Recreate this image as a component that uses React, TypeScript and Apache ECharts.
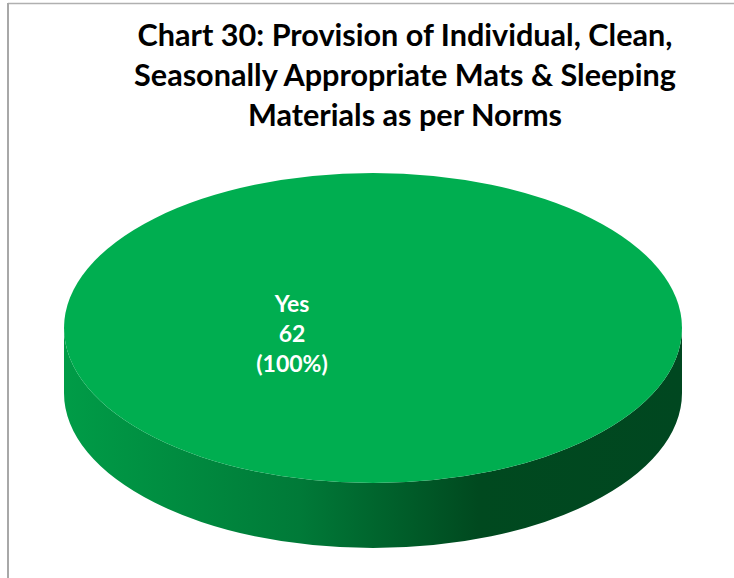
import React, { useEffect, useRef } from "react";
import * as echarts from "echarts";

const categories = ["Yes"];
const values = [62];
const percentLabels = ["(100%)"];
const titleLines = [
  "Chart 30: Provision of Individual, Clean,",
  "Seasonally Appropriate Mats & Sleeping",
  "Materials as per Norms",
];

const FONT = "Lato, Carlito, sans-serif";
const W = 734;
const H = 578;

function ellipsePath(cx: number, cy: number, rx: number, ry: number, share: number) {
  if (share >= 0.9999) {
    return `M${cx - rx} ${cy}A${rx} ${ry} 0 1 1 ${cx + rx} ${cy}A${rx} ${ry} 0 1 1 ${cx - rx} ${cy}Z`;
  }
  const a = 2 * Math.PI * share - Math.PI / 2;
  return `M${cx} ${cy}L${cx} ${cy - ry}A${rx} ${ry} 0 ${share > 0.5 ? 1 : 0} 1 ${cx + rx * Math.cos(a)} ${cy + ry * Math.sin(a)}Z`;
}

function wallPath(cx: number, cy: number, rx: number, ry: number, depth: number) {
  return `M${cx - rx} ${cy}A${rx} ${ry} 0 0 0 ${cx + rx} ${cy}L${cx + rx} ${cy + depth}A${rx} ${ry} 0 0 1 ${cx - rx} ${cy + depth}Z`;
}

export default function App() {
  const ref = useRef<HTMLDivElement>(null);
  useEffect(() => {
    document.body.style.margin = "0";
    const chart = echarts.init(ref.current!, undefined, { renderer: "svg" });
    const total = values.reduce((a, b) => a + b, 0);
    const cx = 373;
    const cy = 328;
    const rx = 309;
    const ry = 155;
    const depth = 65;
    chart.setOption({
      animation: false,
      backgroundColor: "#ffffff",
      title: {
        text: titleLines.join("\n"),
        left: 400,
        top: 9,
        textAlign: "center",
        textStyle: {
          fontFamily: FONT,
          fontSize: 30.6,
          fontWeight: "bold",
          color: "#000000",
          lineHeight: 40,
        },
      },
      graphic: [
        { type: "line", shape: { x1: 8, y1: 3.5, x2: W, y2: 3.5 }, style: { stroke: "#b0b0b0", lineWidth: 1.5 } },
        { type: "line", shape: { x1: 8, y1: 3, x2: 8, y2: H }, style: { stroke: "#a8a8a8", lineWidth: 2 } },
      ],
      series: [
        {
          type: "custom",
          coordinateSystem: "none",
          data: values.map((v, i) => ({ value: v, name: categories[i] })),
          renderItem: (params: any, api: any) => {
            const v = api.value(0);
            const share = v / total;
            return {
              type: "group",
              children: [
                {
                  type: "path",
                  shape: { pathData: wallPath(cx, cy, rx, ry, depth) },
                  style: {
                    fill: new echarts.graphic.LinearGradient(
                      cx - rx, 0, cx + rx, 0,
                      [
                        { offset: 0, color: "#009c47" },
                        { offset: 0.38, color: "#007a38" },
                        { offset: 0.67, color: "#00491f" },
                        { offset: 1, color: "#004720" },
                      ],
                      true
                    ),
                  },
                },
                {
                  type: "path",
                  shape: { pathData: ellipsePath(cx, cy, rx, ry, share) },
                  style: { fill: "#00ae50" },
                },
                {
                  type: "text",
                  x: 292,
                  y: 333,
                  style: {
                    text: `${categories[params.dataIndex]}\n${v}\n${percentLabels[params.dataIndex]}`,
                    fill: "#ffffff",
                    font: `bold 23px ${FONT}`,
                    lineHeight: 30,
                    align: "center",
                    verticalAlign: "middle",
                  },
                },
              ],
            };
          },
        },
      ],
    });
    return () => chart.dispose();
  }, []);
  return <div ref={ref} style={{ width: W, height: H }} />;
}
